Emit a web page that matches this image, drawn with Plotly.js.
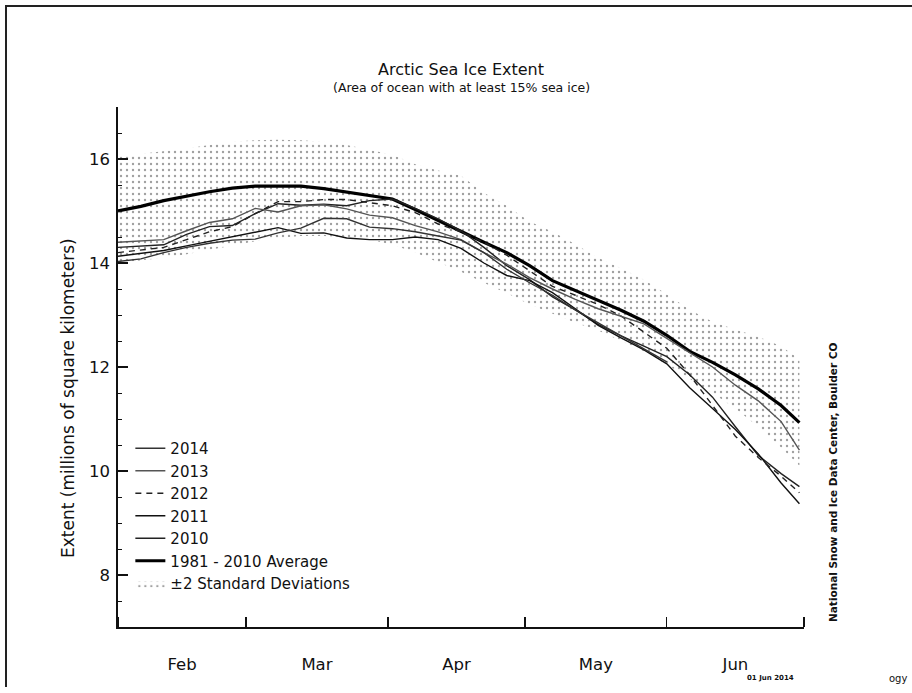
<!DOCTYPE html>
<html>
<head>
<meta charset="utf-8">
<script src="https://cdn.plot.ly/plotly-3.0.1.min.js"></script>
<style>
  html, body { margin: 0; padding: 0; background: #fff; }
  #wrap { position: relative; width: 912px; height: 693px; overflow: hidden; }
  #chart { position: absolute; left: 0; top: 0; width: 912px; height: 693px; }
  #frame { position: absolute; left: 5px; top: 5px; width: 910px; height: 680px;
           border-top: 2px solid #222; border-left: 2px solid #222; pointer-events: none; }
</style>
</head>
<body>
<div id="wrap">
  <div id="chart"></div>
  <div id="frame"></div>
</div>
<script>
// ---- data ----
const dates = ['2014-02-01','2014-02-06','2014-02-11','2014-02-16','2014-02-21','2014-02-26',
  '2014-03-03','2014-03-08','2014-03-13','2014-03-18','2014-03-23','2014-03-28',
  '2014-04-02','2014-04-07','2014-04-12','2014-04-17','2014-04-22','2014-04-27',
  '2014-05-02','2014-05-07','2014-05-12','2014-05-17','2014-05-22','2014-05-27',
  '2014-06-01','2014-06-06','2014-06-11','2014-06-16','2014-06-21','2014-06-26','2014-06-30'];

const avg8110 = [15.00,15.09,15.20,15.29,15.37,15.44,15.48,15.48,15.48,15.43,15.36,15.30,
  15.23,15.03,14.82,14.60,14.40,14.20,13.95,13.66,13.47,13.28,13.09,12.88,
  12.61,12.30,12.09,11.85,11.58,11.26,10.93];
const sdUpper = [16.05,16.10,16.15,16.20,16.27,16.33,16.36,16.37,16.36,16.33,16.27,16.18,
  16.08,15.90,15.78,15.68,15.35,15.10,14.80,14.60,14.36,14.10,13.90,13.68,
  13.40,13.10,12.87,12.72,12.58,12.40,12.15];
const sdLower = [14.00,14.05,14.10,14.17,14.25,14.33,14.42,14.48,14.52,14.52,14.50,14.45,
  14.35,14.20,14.02,13.83,13.62,13.42,13.20,13.02,12.85,12.70,12.50,12.30,
  12.05,11.78,11.50,11.20,10.85,10.45,10.10];

const y2014 = [14.03,14.08,14.20,14.30,14.38,14.44,14.46,14.58,14.67,14.86,14.85,14.69,
  14.66,14.60,14.52,14.44,14.20,13.88,13.62,13.38,13.10,12.85,12.60,12.35,12.10];
const y2013 = [14.40,14.42,14.45,14.62,14.78,14.85,15.05,14.98,15.10,15.12,15.04,14.92,
  14.87,14.72,14.60,14.45,14.20,13.98,13.72,13.50,13.30,13.12,12.97,12.83,
  12.55,12.27,12.00,11.65,11.35,10.95,10.40];
const y2012 = [14.20,14.25,14.30,14.45,14.60,14.70,14.95,15.18,15.18,15.22,15.22,15.16,
  15.10,14.97,14.75,14.60,14.40,14.15,13.85,13.55,13.38,13.20,12.98,12.67,
  12.36,11.85,11.26,10.67,10.26,9.90,9.58];
const y2011 = [14.13,14.18,14.24,14.33,14.42,14.50,14.60,14.68,14.57,14.58,14.48,14.45,
  14.45,14.50,14.45,14.28,14.00,13.76,13.66,13.43,13.12,12.80,12.56,12.33,
  12.06,11.60,11.20,10.80,10.33,9.77,9.37];
const y2010 = [14.30,14.32,14.35,14.55,14.70,14.72,14.95,15.14,15.11,15.13,15.10,15.20,
  15.23,15.05,14.85,14.62,14.30,13.95,13.68,13.35,13.10,12.82,12.60,12.40,
  12.20,11.85,11.42,10.85,10.30,9.95,9.70];

const yTicks = [8, 10, 12, 14, 16];

const FONT = 'DejaVu Sans, Liberation Sans, Arial, sans-serif';

const traces = [
  { x: dates, y: sdLower, type: 'scatter', mode: 'lines', line: {width: 0, color: 'rgba(0,0,0,0)'},
    showlegend: false, hoverinfo: 'skip' },
  { x: dates, y: sdUpper, type: 'scatter', mode: 'lines', name: '±2 Standard Deviations',
    line: {width: 0, color: 'rgba(0,0,0,0)'}, fill: 'tonexty', fillcolor: 'rgba(255,255,255,0)',
    fillpattern: {shape: '.', fgcolor: '#a0a0a0', bgcolor: 'rgba(255,255,255,0)', size: 6, solidity: 0.12},
    legendrank: 7 },
  { x: dates, y: avg8110, type: 'scatter', mode: 'lines', name: '1981 - 2010 Average',
    line: {color: '#000', width: 3.2}, legendrank: 6 },
  { x: dates, y: y2010, type: 'scatter', mode: 'lines', name: '2010',
    line: {color: '#222', width: 1.4}, legendrank: 5 },
  { x: dates, y: y2011, type: 'scatter', mode: 'lines', name: '2011',
    line: {color: '#111', width: 1.4}, legendrank: 4 },
  { x: dates, y: y2012, type: 'scatter', mode: 'lines', name: '2012',
    line: {color: '#222', width: 1.4, dash: '6px,5px'}, legendrank: 3 },
  { x: dates, y: y2013, type: 'scatter', mode: 'lines', name: '2013',
    line: {color: '#555', width: 1.4}, legendrank: 2 },
  { x: dates.slice(0, y2014.length), y: y2014, type: 'scatter', mode: 'lines', name: '2014',
    line: {color: '#333', width: 1.4}, legendrank: 1 }
];

const layout = {
  width: 912, height: 693,
  paper_bgcolor: '#fff', plot_bgcolor: '#fff',
  margin: {l: 118, r: 108, t: 107, b: 66, pad: 0},
  font: {family: FONT, size: 16, color: '#111'},
  showlegend: true,
  legend: {x: 0.018, y: 0.375, xanchor: 'left', yanchor: 'top', bgcolor: 'rgba(0,0,0,0)',
           traceorder: 'normal',
           borderwidth: 0, font: {family: FONT, size: 15, color: '#111'}, tracegroupgap: 0},
  title: {text: 'Arctic Sea Ice Extent', x: 0.5, xref: 'paper', xanchor: 'center',
          y: 1 - 69/693, yref: 'container', yanchor: 'middle',
          font: {family: FONT, size: 16, color: '#111'}},
  xaxis: {
    type: 'date', range: ['2014-02-01', '2014-07-01'],
    tickmode: 'linear', tick0: '2014-02-01', dtick: 'M1', tickformat: '%b', ticklabelmode: 'period',
    ticks: 'inside', ticklen: 10, tickwidth: 1.4, tickcolor: '#111',
    showline: true, linecolor: '#111', linewidth: 1.6, showgrid: false, zeroline: false,
    ticklabelstandoff: 22,
    tickfont: {family: FONT, size: 16.5, color: '#111'}
  },
  yaxis: {
    range: [7, 17], tickmode: 'array', tickvals: yTicks,
    ticks: 'inside', ticklen: 10, tickwidth: 1.4, tickcolor: '#111',
    minor: {dtick: 0.5, ticks: 'inside', ticklen: 4, tickwidth: 1, tickcolor: '#111', showgrid: false},
    showline: true, linecolor: '#111', linewidth: 1.6, showgrid: false, zeroline: false,
    ticklabelstandoff: 3,
    tickfont: {family: FONT, size: 16.5, color: '#111'}
  },
  annotations: [
    {text: '(Area of ocean with at least 15% sea ice)', xref: 'paper', yref: 'paper',
     x: 0.5, y: (627 - 88) / 520, xanchor: 'center', yanchor: 'middle', showarrow: false,
     font: {family: FONT, size: 12.5, color: '#111'}},
    {text: 'Extent (millions of square kilometers)', xref: 'paper', yref: 'paper',
     x: (68 - 118) / 686, y: (627 - 398) / 520, xanchor: 'center', yanchor: 'middle',
     textangle: -90, showarrow: false, font: {family: FONT, size: 17, color: '#111'}},
    {text: '<b>National Snow and Ice Data Center, Boulder CO</b>', xref: 'paper', yref: 'paper',
     x: (833 - 118) / 686, y: (627 - 482) / 520, xanchor: 'center', yanchor: 'middle',
     textangle: -90, showarrow: false, font: {family: FONT, size: 10.5, color: '#111'}},
    {text: '<b>01 Jun 2014</b>', xref: 'paper', yref: 'paper',
     x: (770 - 118) / 686, y: (627 - 678) / 520, xanchor: 'center', yanchor: 'middle',
     showarrow: false, font: {family: FONT, size: 7, color: '#111'}},
    {text: 'ogy', xref: 'paper', yref: 'paper',
     x: (898 - 118) / 686, y: (627 - 678) / 520, xanchor: 'center', yanchor: 'middle',
     showarrow: false, font: {family: FONT, size: 10, color: '#111'}}
  ]
};

Plotly.newPlot('chart', traces, layout, {displayModeBar: false, staticPlot: true});
</script>
</body>
</html>
